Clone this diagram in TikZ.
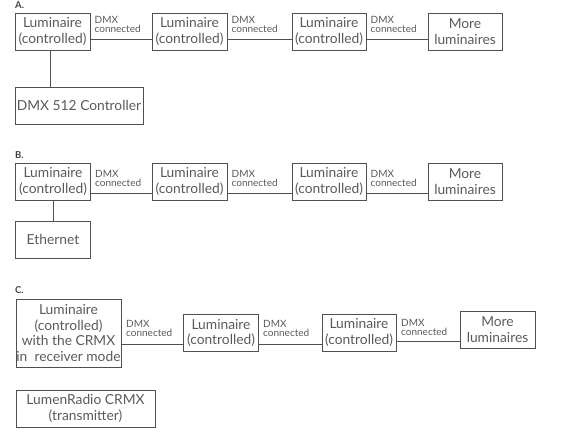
\documentclass[tikz,border=0pt]{standalone}
\usepackage{fontspec}
\setmainfont{Lato}
\definecolor{txt}{HTML}{5A5A5A}
\definecolor{ln}{HTML}{505050}
\tikzset{
  box/.style={draw=ln, line width=0.9pt, inner sep=0pt, minimum height=37pt, minimum width=75pt,
    align=center, text=txt, font=\fontsize{13.8}{15.5}\selectfont},
  lbl/.style={inner sep=0pt, align=left, text=txt, font=\fontsize{10}{9.2}\selectfont, anchor=south west},
  sec/.style={inner sep=0pt, anchor=base west, text=black!75, font=\fontsize{9.5}{10}\selectfont\bfseries},
  wire/.style={draw=ln, line width=0.8pt}
}
\begin{document}
\begin{tikzpicture}[x=1pt,y=-1pt]
\useasboundingbox (0,0) rectangle (581,433);
% ---------- A ----------
\node[sec] (la) at (15,9) {A.};
\node[box] (a1) at (52.5,31.5) {Luminaire\\(controlled)};
\node[box] (a2) at (189.5,31.5) {Luminaire\\(controlled)};
\node[box, minimum width=74pt] (a3) at (329,31.5) {Luminaire\\(controlled)};
\node[box, minimum width=74pt] (a4) at (465,31.5) {More\\luminaires};
\node[box, minimum width=128pt] (ac) at (79,105.5) {DMX 512 Controller};
\draw[wire] ([yshift=-8pt]a1.east) -- ([yshift=-8pt]a2.west);
\draw[wire] ([yshift=-8pt]a2.east) -- ([yshift=-8pt]a3.west);
\draw[wire] ([yshift=-8pt]a3.east) -- ([yshift=-8pt]a4.west);
\draw[wire] (a1.south -| 50,0) -- (ac.north -| 50,0);
\node[lbl] (al1) at ([xshift=4pt,yshift=-1.5pt]a1.east) {DMX\\connected};
\node[lbl] (al2) at ([xshift=4pt,yshift=-1.5pt]a2.east) {DMX\\connected};
\node[lbl] (al3) at ([xshift=4pt,yshift=-1.5pt]a3.east) {DMX\\connected};
% ---------- B ----------
\node[sec] (lb) at (15,159) {B.};
\node[box] (b1) at (53,181.5) {Luminaire\\(controlled)};
\node[box] (b2) at (189.5,181.5) {Luminaire\\(controlled)};
\node[box, minimum width=74pt] (b3) at (329,181.5) {Luminaire\\(controlled)};
\node[box, minimum width=74pt] (b4) at (465,181.5) {More\\luminaires};
\node[box] (be) at (53,239.5) {Ethernet};
\draw[wire] ([yshift=-11.5pt]b1.east) -- ([yshift=-11.5pt]b2.west);
\draw[wire] ([yshift=-11.5pt]b2.east) -- ([yshift=-11.5pt]b3.west);
\draw[wire] ([yshift=-11.5pt]b3.east) -- ([yshift=-11.5pt]b4.west);
\draw[wire] (b1.south) -- (be.north);
\node[lbl] (bl1) at ([xshift=4pt,yshift=-5.5pt]b1.east) {DMX\\connected};
\node[lbl] (bl2) at ([xshift=4pt,yshift=-5.5pt]b2.east) {DMX\\connected};
\node[lbl] (bl3) at ([xshift=4pt,yshift=-5.5pt]b3.east) {DMX\\connected};
% ---------- C ----------
\node[sec] (lc) at (15,293.5) {C.};
\node[box, minimum width=105pt, minimum height=68pt] (c1) at (68.5,333) {Luminaire\\(controlled)\\with the CRMX\\in\ \ receiver mode};
\node[box] (c2) at (221,333) {Luminaire\\(controlled)};
\node[box, minimum width=74pt] (c3) at (359,332.5) {Luminaire\\(controlled)};
\node[box] (c4) at (497.5,329.5) {More\\luminaires};
\node[box, minimum width=139pt] (cr) at (85.5,408.5) {LumenRadio CRMX\\(transmitter)};
\draw[wire] (c1.east |- 0,344) -- (c2.west |- 0,344);
\draw[wire] (c2.east |- 0,344) -- (c3.west |- 0,344);
\draw[wire] (c3.east |- 0,341) -- (c4.west |- 0,341);
\node[lbl] (cl1) at (126,337) {DMX\\connected};
\node[lbl] (cl2) at (263,337) {DMX\\connected};
\node[lbl] (cl3) at (401,336) {DMX\\connected};
\end{tikzpicture}
\end{document}
